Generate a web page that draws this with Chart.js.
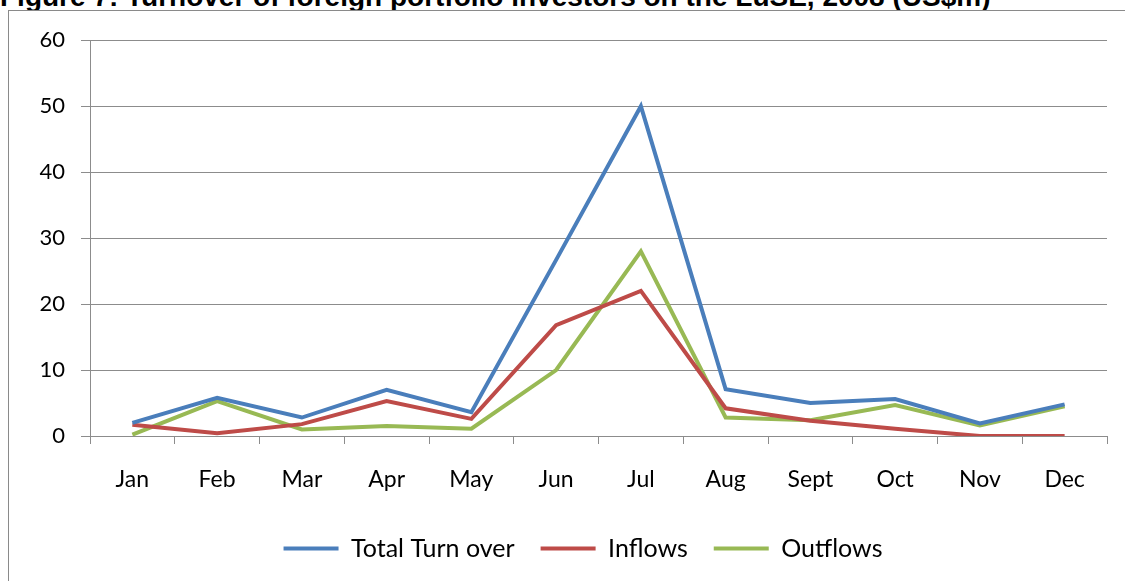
<!DOCTYPE html>
<html>
<head>
<meta charset="utf-8">
<script src="https://cdn.jsdelivr.net/npm/chart.js@4.4.1/dist/chart.umd.min.js"></script>
<style>
  html, body { margin: 0; padding: 0; background: #fff; overflow: hidden; width: 1125px; height: 581px; }
  #title {
    position: absolute; left: 0; top: -19px; white-space: nowrap; line-height: 1;
    font: bold 28px "Liberation Sans", Arial, sans-serif; color: #000;
  }
  #frame {
    position: absolute; left: 8px; top: 10px; width: 1130px; height: 600px;
    border: 1px solid #8a8a8a; box-sizing: border-box; background: #fff;
  }
  #wrap { position: absolute; left: 9px; top: 11px; width: 1116px; height: 570px; }
</style>
</head>
<body>
<div id="title">Figure 7: Turnover of foreign portfolio investors on the LuSE, 2008 (US$m)</div>
<div id="frame"></div>
<div id="wrap"><canvas id="turnoverChart"></canvas></div>
<script>
// Months on the category axis
const months = ['Jan', 'Feb', 'Mar', 'Apr', 'May', 'Jun', 'Jul', 'Aug', 'Sept', 'Oct', 'Nov', 'Dec']

// US$m
const totalTurnover = [2.0, 5.8, 2.8, 7.0, 3.6, 26.7, 50.0, 7.1, 5.0, 5.6, 1.9, 4.8]
const inflows = [1.7, 0.4, 1.8, 5.3, 2.6, 16.8, 22.0, 4.2, 2.3, 1.1, 0.0, 0.0]
const outflows = [0.2, 5.3, 1.0, 1.5, 1.1, 10.0, 28.0, 2.8, 2.4, 4.7, 1.6, 4.5]

const yTicks = [0, 10, 20, 30, 40, 50, 60]

document.addEventListener('DOMContentLoaded', () => {
  const ctx = document.getElementById('turnoverChart')
  const gridColor = '#8c8c8c'
  const family = 'Lato, "Open Sans", sans-serif'

  const makeSeries = (label, data, color) => ({
    label: label,
    data: data,
    borderColor: color,
    backgroundColor: color,
    borderWidth: 4,
    pointRadius: 0,
    pointHoverRadius: 0,
    pointStyle: 'line',
    tension: 0,
    fill: false
  })

  // nudge the legend a little to the right, like the original
  const legendShift = {
    id: 'legendShift',
    afterLayout: (chart) => {
      if (chart.legend) {
        chart.legend.left += 25
        chart.legend.right += 25
      }
    }
  }

  new Chart(ctx, {
    type: 'line',
    data: {
      labels: months,
      datasets: [
        makeSeries('Total Turn over', totalTurnover, '#4a7ebb'),
        makeSeries('Inflows', inflows, '#be4b48'),
        makeSeries('Outflows', outflows, '#98b954')
      ]
    },
    plugins: [legendShift],
    options: {
      responsive: true,
      maintainAspectRatio: false,
      animation: false,
      layout: {
        padding: { top: 29, right: 18, bottom: 10, left: 0 }
      },
      scales: {
        x: {
          offset: true,
          grid: {
            offset: true,
            drawOnChartArea: false,
            drawTicks: true,
            tickLength: 8,
            color: gridColor
          },
          border: { display: true, color: gridColor },
          ticks: { color: '#000', font: { family: family, size: 23 }, padding: 22, maxRotation: 0 },
          afterFit: (scale) => { scale.height = 74 }
        },
        y: {
          min: yTicks[0],
          max: yTicks[yTicks.length - 1],
          afterBuildTicks: (scale) => {
            scale.ticks = yTicks.map((v) => ({ value: v }))
          },
          grid: {
            color: gridColor,
            drawTicks: true,
            tickLength: 9
          },
          border: { display: true, color: gridColor },
          ticks: { color: '#000', font: { family: family, size: 22 }, padding: 16 },
          afterFit: (scale) => { scale.width = 81 }
        }
      },
      plugins: {
        legend: {
          position: 'bottom',
          labels: {
            usePointStyle: true,
            pointStyleWidth: 55,
            padding: 26,
            color: '#000',
            font: { family: family, size: 25 }
          }
        },
        tooltip: { enabled: false }
      }
    }
  })
})
</script>
</body>
</html>
